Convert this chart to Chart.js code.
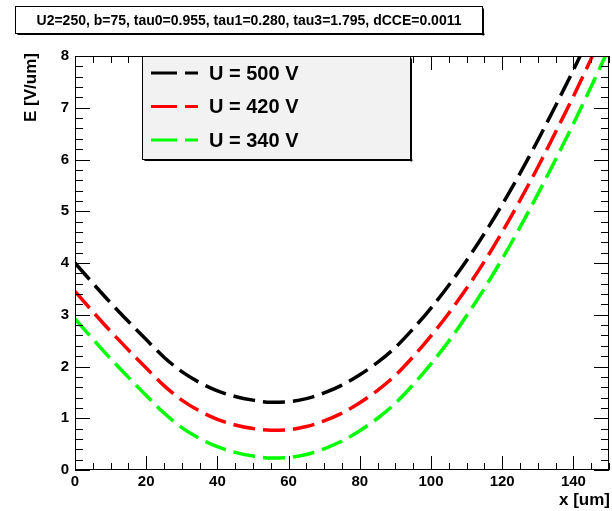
<!DOCTYPE html>
<html>
<head>
<meta charset="utf-8">
<script src="https://cdn.jsdelivr.net/npm/chart.js@4/dist/chart.umd.min.js"></script>
<style>
  html, body { margin: 0; padding: 0; background: #fff; }
  canvas { display: block; }
</style>
</head>
<body>
<canvas id="fieldChart" width="612" height="511"></canvas>
<script>
// Field profile E(x) for three bias voltages
const xValues = [0, 5, 10, 15, 20, 25, 30, 35, 40, 45, 50, 55, 60, 65, 70, 75,
                 80, 85, 90, 95, 100, 105, 110, 115, 120, 125, 130, 135, 140, 145, 150];
const e500 = [4.00, 3.61, 3.23, 2.87, 2.52, 2.18, 1.90, 1.69, 1.53, 1.42, 1.35, 1.31, 1.32, 1.38, 1.49, 1.64,
              1.84, 2.08, 2.37, 2.73, 3.13, 3.57, 4.05, 4.57, 5.13, 5.73, 6.37, 7.04, 7.73, 8.45, 9.20];
const e420 = [3.45, 3.06, 2.68, 2.32, 1.97, 1.63, 1.35, 1.14, 0.98, 0.87, 0.80, 0.77, 0.78, 0.84, 0.95, 1.10,
              1.30, 1.54, 1.83, 2.19, 2.59, 3.03, 3.51, 4.03, 4.60, 5.21, 5.85, 6.53, 7.22, 7.95, 8.70];
const e340 = [2.92, 2.53, 2.15, 1.79, 1.44, 1.10, 0.82, 0.61, 0.45, 0.34, 0.27, 0.23, 0.24, 0.30, 0.41, 0.56,
              0.76, 1.00, 1.29, 1.65, 2.05, 2.49, 2.98, 3.51, 4.08, 4.69, 5.33, 6.00, 6.69, 7.41, 8.15];
const seriesLabels = ['U = 500 V', 'U = 420 V', 'U = 340 V'];
const seriesColors = ['#000000', '#ff0000', '#00ff00'];
const xTickValues = [0, 20, 40, 60, 80, 100, 120, 140];
const yTickValues = [0, 1, 2, 3, 4, 5, 6, 7, 8];
const paramText = 'U2=250, b=75, tau0=0.955, tau1=0.280, tau3=1.795, dCCE=0.0011';
const xTitle = 'x [um]';
const yTitle = 'E [V/um]';

const FONT = '"Liberation Sans", Arial, Helvetica, sans-serif';

function points(ys) {
    return xValues.map((x, i) => ({ x: x, y: ys[i] }));
}

const datasets = [e500, e420, e340].map((ys, i) => ({
    label: seriesLabels[i],
    data: points(ys),
    borderColor: seriesColors[i],
    borderWidth: 3.5,
    borderDash: [22, 8],
    pointRadius: 0,
    fill: false,
    cubicInterpolationMode: 'monotone',
    clip: 0
}));

// ROOT-like frame, inward ticks on all four sides, titles, legend and parameter box
const rootDecor = {
    id: 'rootDecor',
    afterDraw(chart) {
        const ctx = chart.ctx;
        const a = chart.chartArea;
        const xs = chart.scales.x;
        const ys = chart.scales.y;
        ctx.save();
        ctx.strokeStyle = '#000';
        ctx.lineWidth = 1;

        // frame
        ctx.strokeRect(Math.round(a.left) + 0.5, Math.round(a.top) + 0.5,
                       Math.round(a.right - a.left) - 1, Math.round(a.bottom - a.top) - 1);

        ctx.beginPath();
        for (let v = xs.min; v <= xs.max + 1e-6; v += 5) {
            const px = Math.round(xs.getPixelForValue(v)) + 0.5;
            const len = (v % 20 === 0) ? 14 : 7;
            ctx.moveTo(px, a.bottom); ctx.lineTo(px, a.bottom - len);
            ctx.moveTo(px, a.top); ctx.lineTo(px, a.top + len);
        }
        for (let k = 0; k <= 40; k++) {
            const v = ys.min + k * 0.2;
            const py = Math.round(ys.getPixelForValue(v)) + 0.5;
            const len = (k % 5 === 0) ? 15 : 8;
            ctx.moveTo(a.left, py); ctx.lineTo(a.left + len, py);
            ctx.moveTo(a.right, py); ctx.lineTo(a.right - len, py);
        }
        ctx.stroke();

        // axis titles
        ctx.fillStyle = '#000';
        ctx.font = 'bold 17px ' + FONT;
        ctx.textAlign = 'right';
        ctx.textBaseline = 'middle';
        ctx.fillText(xTitle, 610, 500);
        ctx.save();
        ctx.translate(31, a.top - 3);
        ctx.rotate(-Math.PI / 2);
        ctx.fillText(yTitle, 0, 0);
        ctx.restore();

        // legend
        const lx = 142.5, ly = a.top + 0.5, lw = 268, lh = 103;
        ctx.fillStyle = '#f2f2f2';
        ctx.fillRect(lx, ly, lw, lh);
        ctx.fillStyle = '#000';
        ctx.fillRect(lx + 2, ly + lh, lw, 1.5);
        ctx.fillRect(lx + lw, ly + 2, 1.5, lh);
        ctx.strokeRect(lx, ly, lw, lh);
        ctx.font = 'bold 20px ' + FONT;
        ctx.textAlign = 'left';
        chart.data.datasets.forEach((ds, i) => {
            const cy = 73 + i * 33.5;
            ctx.save();
            ctx.strokeStyle = ds.borderColor;
            ctx.lineWidth = 3;
            ctx.setLineDash([26, 8]);
            ctx.beginPath();
            ctx.moveTo(151, cy);
            ctx.lineTo(198, cy);
            ctx.stroke();
            ctx.restore();
            ctx.fillStyle = '#000';
            ctx.fillText(ds.label, 209, cy + 1);
        });

        // parameter box
        const bx = 15.5, by = 6.5, bw = 467, bh = 27;
        ctx.fillStyle = '#fff';
        ctx.fillRect(bx, by, bw, bh);
        ctx.fillStyle = '#000';
        ctx.fillRect(bx + 2, by + bh, bw, 1.5);
        ctx.fillRect(bx + bw, by + 2, 1.5, bh);
        ctx.strokeRect(bx, by, bw, bh);
        ctx.font = 'bold 14px ' + FONT;
        ctx.textAlign = 'center';
        ctx.fillText(paramText, bx + bw / 2, by + bh / 2 + 1);
        ctx.restore();
    }
};

const tickFont = { family: FONT, size: 15, weight: 'bold' };

new Chart(document.getElementById('fieldChart').getContext('2d'), {
    type: 'line',
    data: { datasets: datasets },
    options: {
        responsive: false,
        animation: false,
        devicePixelRatio: 1,
        layout: { padding: { top: 56, right: 3, left: 0, bottom: 0 } },
        plugins: { legend: { display: false }, tooltip: { enabled: false } },
        scales: {
            x: {
                type: 'linear',
                min: 0,
                max: 150,
                grid: { display: false, drawTicks: false },
                border: { display: false },
                ticks: { color: '#000', font: tickFont, padding: 3, maxRotation: 0, autoSkip: false },
                afterBuildTicks(s) { s.ticks = xTickValues.map(v => ({ value: v })); },
                afterFit(s) { s.height = 41; }
            },
            y: {
                min: 0,
                max: 8,
                grid: { display: false, drawTicks: false },
                border: { display: false },
                ticks: { color: '#000', font: tickFont, padding: 6, autoSkip: false },
                afterBuildTicks(s) { s.ticks = yTickValues.map(v => ({ value: v })); },
                afterFit(s) { s.width = 75; }
            }
        }
    },
    plugins: [rootDecor]
});
</script>
</body>
</html>
